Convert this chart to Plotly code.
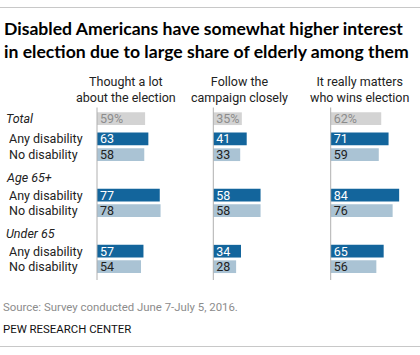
import plotly.graph_objects as go

# ---- data ----
columns = ["Thought a lot<br>about the election",
           "Follow the<br>campaign closely",
           "It really matters<br>who wins election"]
row_labels = ["Total", "Any disability", "No disability",
              "Age 65+", "Any disability", "No disability",
              "Under 65", "Any disability", "No disability"]
row_kind = ["total", "any", "no", "group", "any", "no", "group", "any", "no"]
thought = [59, 63, 58, None, 77, 78, None, 57, 54]
follow = [35, 41, 33, None, 58, 58, None, 34, 28]
matters = [62, 71, 59, None, 84, 76, None, 65, 56]
series = [thought, follow, matters]

# ---- layout (pixel geometry) ----
W, H = 420, 355
row_y = [118.7, 138.8, 154.7, 177, 195.2, 210.7, 233.3, 251.2, 266.7]
col_zero_px = [97, 213.3, 330.7]
col_head_px = [126.3, 239.5, 359.7]
px_per_unit = 0.815
bar_h = 12.7

colors = {"total": "#d3d3d3", "any": "#13659c", "no": "#aac3d4"}
text_colors = {"total": "#8c8c8c", "any": "#ffffff", "no": "#222222"}
FONT = "Roboto"
TITLE_FONT = "Lato"

fig = go.Figure()
axis_names = ["x", "x2", "x3"]
for ci, vals in enumerate(series):
    for kind in ["total", "any", "no"]:
        ys, xs, txt = [], [], []
        for ri, v in enumerate(vals):
            if v is None or row_kind[ri] != kind:
                continue
            ys.append(row_y[ri])
            xs.append(v)
            txt.append(f"{v}%" if kind == "total" else str(v))
        fig.add_trace(go.Bar(
            x=xs, y=ys, orientation="h", xaxis=axis_names[ci], yaxis="y",
            width=bar_h, marker=dict(color=colors[kind], line=dict(width=0)),
            text=txt, textposition="inside", insidetextanchor="start",
            textfont=dict(family=FONT, size=12.5, color=text_colors[kind]),
            textangle=0, constraintext="none", showlegend=False, hoverinfo="skip",
        ))

layout_axes = {}
for ci, name in enumerate(["xaxis", "xaxis2", "xaxis3"]):
    lo = -col_zero_px[ci] / px_per_unit
    hi = (W - col_zero_px[ci]) / px_per_unit
    ax = dict(domain=[0, 1], range=[lo, hi], visible=False, fixedrange=True)
    if ci > 0:
        ax.update(overlaying="x", anchor="y")
    layout_axes[name] = ax

shapes = []
shapes.append(dict(type="line", xref="paper", yref="y", x0=0, x1=1, y0=7.5, y1=7.5,
                   line=dict(color="#c8c8c8", width=1)))
shapes.append(dict(type="line", xref="paper", yref="y", x0=0, x1=1, y0=346.5, y1=346.5,
                   line=dict(color="#c8c8c8", width=1)))
for ci in range(3):
    shapes.append(dict(type="line", xref=axis_names[ci], yref="y", x0=0, x1=0,
                       y0=107.5, y1=280, line=dict(color="#b0b0b0", width=1), layer="above"))

ann = []
ann.append(dict(text="<b>Disabled Americans have somewhat higher interest</b>", x=1.5 / W, y=28.5,
                xref="paper", yref="y", xanchor="left", yanchor="middle", showarrow=False,
                font=dict(family=TITLE_FONT, size=17.6, color="#000000")))
ann.append(dict(text="<b>in election due to large share of elderly among them</b>", x=1.5 / W, y=51,
                xref="paper", yref="y", xanchor="left", yanchor="middle", showarrow=False,
                font=dict(family=TITLE_FONT, size=17.6, color="#000000")))
for ci, c in enumerate(columns):
    ann.append(dict(text=c, x=col_head_px[ci] / W, y=89, xref="paper", yref="y",
                    xanchor="center", yanchor="middle", showarrow=False,
                    font=dict(family=FONT, size=12.5, color="#222222")))
for ri, lab in enumerate(row_labels):
    if row_kind[ri] in ("total", "group"):
        ann.append(dict(text=f"<i>{lab}</i>", x=4 / W, y=row_y[ri], xref="paper", yref="y",
                        xanchor="left", yanchor="middle", showarrow=False,
                        font=dict(family=FONT, size=12.5, color="#222222")))
    else:
        ann.append(dict(text=lab, x=7 / W, y=row_y[ri], xref="paper", yref="y",
                        xanchor="left", yanchor="middle", showarrow=False,
                        font=dict(family=FONT, size=12.5, color="#222222")))
ann.append(dict(text="Source: Survey conducted June 7-July 5, 2016.", x=1 / W, y=306.5,
                xref="paper", yref="y", xanchor="left", yanchor="middle", showarrow=False,
                font=dict(family=FONT, size=11.4, color="#8c8c8c")))
ann.append(dict(text="PEW RESEARCH CENTER", x=1 / W, y=328.5,
                xref="paper", yref="y", xanchor="left", yanchor="middle", showarrow=False,
                font=dict(family=FONT, size=11.4, color="#111111")))

fig.update_layout(
    width=W, height=H, margin=dict(l=0, r=0, t=0, b=0),
    paper_bgcolor="white", plot_bgcolor="white",
    yaxis=dict(domain=[0, 1], range=[H, 0], visible=False, fixedrange=True),
    barmode="overlay", shapes=shapes, annotations=ann, showlegend=False,
    **layout_axes,
)
fig.write_html("out.html", config={"displayModeBar": False},
               post_script="document.body.style.margin='0';")
